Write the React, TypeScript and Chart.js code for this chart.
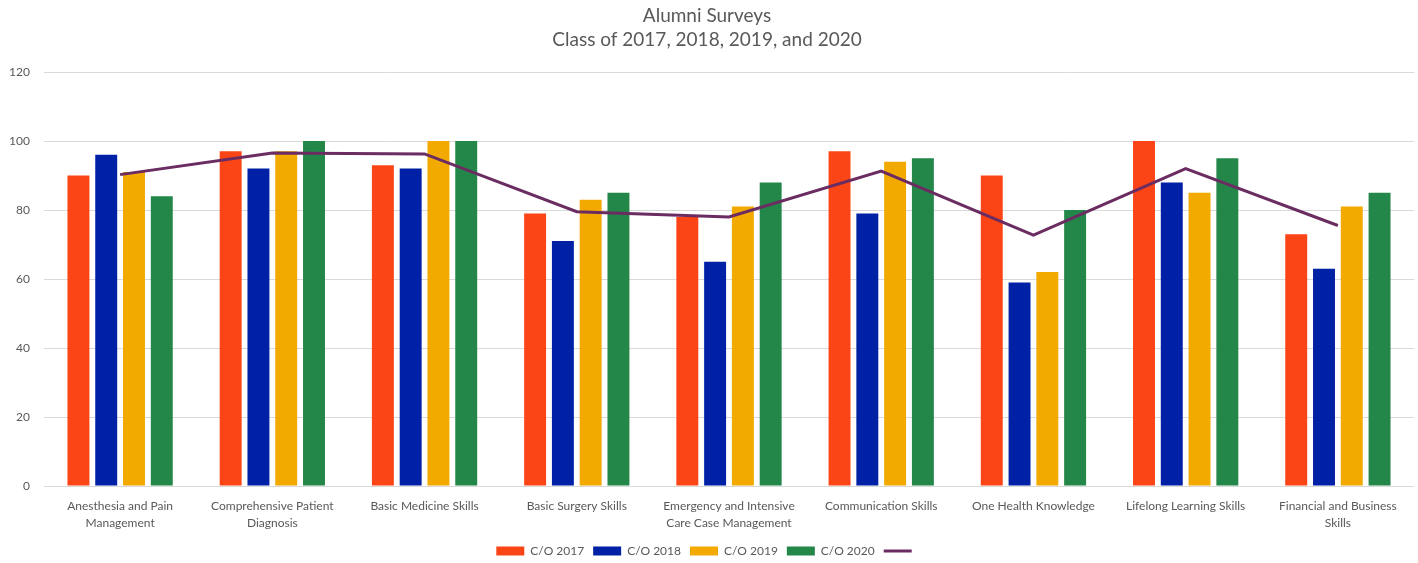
import React, { useEffect, useRef } from "react";
import { Chart, registerables } from "chart.js";

Chart.register(...registerables);

const categories: string[][] = [
  ["Anesthesia and Pain", "Management"],
  ["Comprehensive Patient", "Diagnosis"],
  ["Basic Medicine Skills"],
  ["Basic Surgery Skills"],
  ["Emergency and Intensive", "Care Case Management"],
  ["Communication Skills"],
  ["One Health Knowledge"],
  ["Lifelong Learning Skills"],
  ["Financial and Business", "Skills"],
];

const co2017 = [90, 97, 93, 79, 78, 97, 90, 100, 73];
const co2018 = [96, 92, 92, 71, 65, 79, 59, 88, 63];
const co2019 = [91, 97, 100, 83, 81, 94, 62, 85, 81];
const co2020 = [84, 100, 100, 85, 88, 95, 80, 95, 85];
const average = [90.25, 96.5, 96.25, 79.5, 78, 91.25, 72.75, 92, 75.5];

const seriesNames = ["C/O 2017", "C/O 2018", "C/O 2019", "C/O 2020", ""];
const yTicks = [0, 20, 40, 60, 80, 100, 120];
const titleLines = ["Alumni Surveys", "Class of 2017, 2018, 2019, and 2020"];

const FONT = "Lato, 'Liberation Sans', sans-serif";
const TEXT = "#595959";

export default function App() {
  const ref = useRef<HTMLCanvasElement | null>(null);

  useEffect(() => {
    if (!ref.current) return;
    const barCommon = {
      type: "bar" as const,
      categoryPercentage: 0.73,
      barPercentage: 0.79,
      borderWidth: 0,
      order: 1,
    };
    const chart = new Chart(ref.current, {
      type: "bar",
      data: {
        labels: categories,
        datasets: [
          { ...barCommon, label: seriesNames[0], data: co2017, backgroundColor: "#FC4516" },
          { ...barCommon, label: seriesNames[1], data: co2018, backgroundColor: "#0021A6" },
          { ...barCommon, label: seriesNames[2], data: co2019, backgroundColor: "#F2A900" },
          { ...barCommon, label: seriesNames[3], data: co2020, backgroundColor: "#238749" },
          {
            type: "line" as const,
            label: seriesNames[4],
            data: average,
            borderColor: "#6A2C61",
            backgroundColor: "#6A2C61",
            borderWidth: 3,
            pointRadius: 0,
            tension: 0,
            order: 0,
          } as any,
        ],
      },
      options: {
        animation: false,
        responsive: true,
        maintainAspectRatio: false,
        layout: { padding: { left: 0, right: 4, top: 0, bottom: -4 } },
        plugins: {
          tooltip: { enabled: false },
          title: {
            display: true,
            text: titleLines,
            color: TEXT,
            font: { family: FONT, size: 19, weight: "normal", lineHeight: "24px" },
            padding: { top: 4, bottom: 20 },
          },
          legend: {
            position: "bottom",
            labels: {
              color: TEXT,
              font: { family: FONT, size: 12 },
              usePointStyle: true,
              pointStyleWidth: 28,
              boxHeight: 9,
              padding: 9,
              generateLabels: (c: any) =>
                c.data.datasets.map((ds: any, i: number) => {
                  const isLine = ds.type === "line";
                  return {
                    text: ds.label,
                    fillStyle: ds.backgroundColor,
                    strokeStyle: isLine ? ds.borderColor : ds.backgroundColor,
                    lineWidth: isLine ? 3 : 0,
                    pointStyle: isLine ? "line" : "rect",
                    fontColor: TEXT,
                    hidden: false,
                    datasetIndex: i,
                  };
                }),
            },
          },
        },
        scales: {
          x: {
            grid: { display: false, drawTicks: false },
            border: { display: false },
            ticks: {
              color: TEXT,
              font: { family: FONT, size: 12, lineHeight: 1.4 },
              padding: 12,
              maxRotation: 0,
              autoSkip: false,
            },
            afterFit: (scale: any) => {
              scale.height = 50;
            },
          },
          y: {
            min: 0,
            max: 120,
            afterBuildTicks: (scale: any) => {
              scale.ticks = yTicks.map((v) => ({ value: v }));
            },
            grid: { color: "#D9D9D9", lineWidth: 1, drawTicks: false },
            border: { display: false },
            ticks: {
              color: TEXT,
              font: { family: FONT, size: 12 },
              padding: 14,
            },
            afterFit: (scale: any) => {
              scale.width = 44;
            },
          },
        },
      },
    });
    return () => chart.destroy();
  }, []);

  return (
    <div style={{ position: "fixed", left: 0, top: 0, width: 1418, height: 563, background: "#fff" }}>
      <canvas ref={ref} />
    </div>
  );
}
